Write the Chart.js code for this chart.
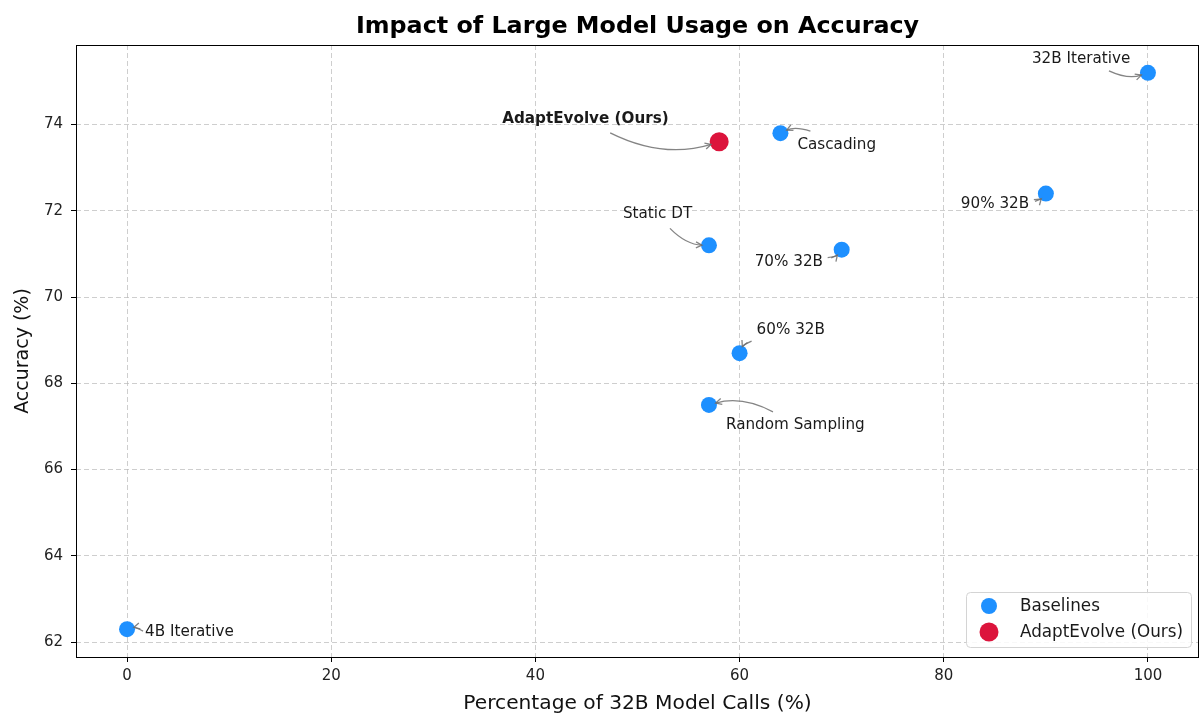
<!DOCTYPE html>
<html><head><meta charset="utf-8">
<script src="https://cdn.jsdelivr.net/npm/chart.js@4"></script>
<style>html,body{margin:0;padding:0;background:#fff}#wrap{width:1200px;height:716px}</style>
</head><body><div id="wrap"><canvas id="c" width="1200" height="716"></canvas></div>
<script>
// ---- data ----
const baselineLabels = ['4B Iterative','Random Sampling','60% 32B','Static DT','70% 32B','90% 32B','Cascading','32B Iterative'];
const baselineX = [0, 57, 60, 57, 70, 90, 64, 100];
const baselineY = [62.3, 67.5, 68.7, 71.2, 71.1, 72.4, 73.8, 75.2];
const oursLabels = ['AdaptEvolve (Ours)'];
const oursX = [58];
const oursY = [73.6];
const seriesNames = ['Baselines', 'AdaptEvolve (Ours)'];
const xTicks = [0, 20, 40, 60, 80, 100];
const yTicks = [62, 64, 66, 68, 70, 72, 74];
const chartTitle = 'Impact of Large Model Usage on Accuracy';
const xTitle = 'Percentage of 32B Model Calls (%)';
const yTitle = 'Accuracy (%)';

// ---- annotation styling (pixel offsets from the point) ----
const annoStyle = {
  '4B Iterative':      {tx: 18,   ty: 3,   ax: 16,   ay: 2},
  'Random Sampling':   {tx: 17,   ty: 20,  ax: 64,   ay: 7},
  '60% 32B':           {tx: 17,   ty: -23, ax: 12,   ay: -12},
  'Static DT':         {tx: -86,  ty: -31, ax: -39,  ay: -17},
  '70% 32B':           {tx: -87,  ty: 12,  ax: -14,  ay: 8},
  '90% 32B':           {tx: -85,  ty: 10,  ax: -12,  ay: 6},
  'Cascading':         {tx: 17,   ty: 12,  ax: 30,   ay: -2},
  '32B Iterative':     {tx: -116, ty: -14, ax: -39,  ay: -2},
  'AdaptEvolve (Ours)':{tx: -217, ty: -23, ax: -109, ay: -9, bold: true}
};

const FONT = "'DejaVu Sans', sans-serif";
const BLUE = '#1E90FF', RED = '#DC143C';

const toPts = (xs, ys) => xs.map((x, i) => ({x: x, y: ys[i]}));

function drawArrow(ctx, sx, sy, px, py, shrink, rad) {
  const mx = (sx + px) / 2, my = (sy + py) / 2;
  const cx = mx - rad * (py - sy), cy = my + rad * (px - sx);
  const dx = cx - px, dy = cy - py, d = Math.hypot(dx, dy) || 1;
  const ex = px + dx / d * shrink, ey = py + dy / d * shrink;
  ctx.beginPath();
  ctx.moveTo(sx, sy);
  ctx.quadraticCurveTo(cx, cy, ex, ey);
  ctx.stroke();
  const ang = Math.atan2(ey - cy, ex - cx);
  const L = 6, W = 3;
  const bx = ex - Math.cos(ang) * L, by = ey - Math.sin(ang) * L;
  const nx = -Math.sin(ang) * W, ny = Math.cos(ang) * W;
  ctx.beginPath();
  ctx.moveTo(bx + nx, by + ny);
  ctx.lineTo(ex, ey);
  ctx.lineTo(bx - nx, by - ny);
  ctx.stroke();
}

const decor = {
  id: 'decor',
  beforeDraw(chart) {
    const ctx = chart.ctx;
    ctx.save();
    ctx.fillStyle = '#fff';
    ctx.fillRect(0, 0, chart.width, chart.height);
    ctx.restore();
  },
  afterDatasetsDraw(chart) {
    const ctx = chart.ctx, a = chart.chartArea;
    const xs = chart.scales.x, ys = chart.scales.y;
    ctx.save();
    // annotations
    chart.data.datasets.forEach((ds) => {
      const names = ds.pointNames;
      ds.data.forEach((p, i) => {
        const st = annoStyle[names[i]];
        if (!st) return;
        const px = xs.getPixelForValue(p.x), py = ys.getPixelForValue(p.y);
        ctx.strokeStyle = 'rgba(110,110,110,0.85)';
        ctx.lineWidth = 1.3;
        drawArrow(ctx, px + st.ax, py + st.ay, px, py, ds.pointRadius - 1, 0.2);
        ctx.fillStyle = '#1a1a1a';
        ctx.font = (st.bold ? 'bold ' : '') + '15.2px ' + FONT;
        ctx.textAlign = 'left';
        ctx.textBaseline = 'middle';
        ctx.fillText(names[i], px + st.tx, py + st.ty);
      });
    });
    // frame
    ctx.strokeStyle = '#000';
    ctx.lineWidth = 1;
    const L = Math.round(a.left) + 0.5, T = Math.round(a.top) + 0.5;
    const R = Math.round(a.right) - 0.5, B = Math.round(a.bottom) + 0.5;
    ctx.strokeRect(L, T, R - L, B - T);
    // legend
    const lx = 966, ly = 592, lw = 225, lh = 55;
    ctx.beginPath();
    if (ctx.roundRect) ctx.roundRect(lx + 0.5, ly + 0.5, lw, lh, 4); else ctx.rect(lx + 0.5, ly + 0.5, lw, lh);
    ctx.fillStyle = 'rgba(255,255,255,0.85)';
    ctx.fill();
    ctx.strokeStyle = '#d4d4d4';
    ctx.stroke();
    chart.data.datasets.forEach((ds, di) => {
      const yy = ly + 14 + di * 26;
      ctx.beginPath();
      ctx.arc(lx + 23, yy, ds.pointRadius, 0, Math.PI * 2);
      ctx.fillStyle = ds.backgroundColor;
      ctx.fill();
      ctx.fillStyle = '#1a1a1a';
      ctx.font = '16.8px ' + FONT;
      ctx.textAlign = 'left';
      ctx.textBaseline = 'middle';
      ctx.fillText(ds.label, lx + 54, yy + 1);
    });
    // title
    ctx.fillStyle = '#000';
    ctx.font = 'bold 23.8px ' + FONT;
    ctx.textAlign = 'center';
    ctx.textBaseline = 'middle';
    ctx.fillText(chartTitle, (a.left + a.right) / 2, 27);
    ctx.restore();
  }
};

const gridCfg = {
  color: 'rgba(185,185,185,0.7)',
  lineWidth: 1,
  drawTicks: true,
  tickLength: 5,
  tickColor: '#000',
  tickBorderDash: [],
  tickWidth: 1
};
const borderCfg = {display: false, dash: [5, 3]};

new Chart(document.getElementById('c'), {
  type: 'scatter',
  data: {
    datasets: [
      {label: seriesNames[0], data: toPts(baselineX, baselineY), pointNames: baselineLabels,
       backgroundColor: BLUE, borderWidth: 0, pointRadius: 8, pointHoverRadius: 8},
      {label: seriesNames[1], data: toPts(oursX, oursY), pointNames: oursLabels,
       backgroundColor: RED, borderWidth: 0, pointRadius: 9.5, pointHoverRadius: 9.5}
    ]
  },
  options: {
    responsive: false,
    animation: false,
    devicePixelRatio: 1,
    layout: {autoPadding: false, padding: {top: 45, right: 1, left: 0, bottom: 0}},
    plugins: {legend: {display: false}, tooltip: {enabled: false}, title: {display: false}},
    scales: {
      x: {
        type: 'linear', min: -5, max: 105,
        afterBuildTicks: s => { s.ticks = xTicks.map(v => ({value: v})); },
        afterFit: s => { s.height = 59; s.paddingLeft = 0; s.paddingRight = 0; },
        grid: gridCfg,
        border: borderCfg,
        ticks: {font: {family: FONT, size: 15}, color: '#222', padding: 5},
        title: {display: true, text: xTitle, font: {family: FONT, size: 20.2}, color: '#111', padding: {top: 0, bottom: 0}}
      },
      y: {
        type: 'linear', min: 61.655, max: 75.845,
        afterBuildTicks: s => { s.ticks = yTicks.map(v => ({value: v})); },
        afterFit: s => { s.width = 76; s.paddingTop = 0; s.paddingBottom = 0; },
        grid: gridCfg,
        border: borderCfg,
        ticks: {font: {family: FONT, size: 15}, color: '#222', padding: 8},
        title: {display: true, text: yTitle, font: {family: FONT, size: 19}, color: '#111', padding: {top: 12, bottom: 0}}
      }
    }
  },
  plugins: [decor]
});
</script></body></html>
